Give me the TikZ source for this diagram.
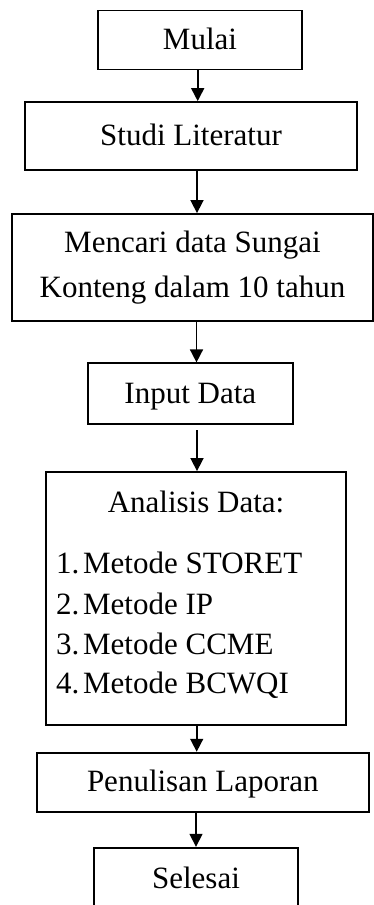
\documentclass[tikz,border=0pt]{standalone}
\usepackage{fontspec}
\setmainfont{Liberation Serif}
\usetikzlibrary{arrows.meta}
\begin{document}
\begin{tikzpicture}[x=1pt,y=-1pt,
  txt/.style={inner sep=0pt, font=\fontsize{31}{45}\selectfont},
  box/.style={txt, draw, line width=1.8pt, text height=21pt, text depth=2pt},
  flow/.style={line width=1.6pt, -{Triangle[length=13pt,width=13pt]}}]
\useasboundingbox (0,0) rectangle (374,905);
\clip (0,0) rectangle (374,905);

% process boxes
\node[box, minimum width=204pt, minimum height=59pt] (mulai) at (200,40) {Mulai};
\node[box, minimum width=332pt, minimum height=68pt] (studi) at (191,136) {Studi Literatur};
\node[box, minimum width=361pt, minimum height=107pt, align=center,
      text height={}, text depth={}] (data) at (192.5,267.5)
      {Mencari data Sungai\\Konteng dalam 10 tahun};
\node[box, minimum width=204.7pt, minimum height=61pt] (input) at (190.3,393.8) {Input Data};
\node[box, minimum width=300pt, minimum height=253pt] (analisis) at (196,598.5) {};
\node[box, minimum width=332.3pt, minimum height=59.3pt] (laporan) at (202.8,782.3) {Penulisan Laporan};
\node[box, minimum width=203.4pt, minimum height=62pt] (selesai) at (196,878.7) {Selesai};

% contents of the analysis box
\node[txt, anchor=base] (anltitle) at (196,512.7) {Analisis Data:};
\node[txt, anchor=base west] (m1) at (56,573) {\makebox[27pt][l]{1.}Metode STORET};
\node[txt, anchor=base west] (m2) at (56,614) {\makebox[27pt][l]{2.}Metode IP};
\node[txt, anchor=base west] (m3) at (56,654) {\makebox[27pt][l]{3.}Metode CCME};
\node[txt, anchor=base west] (m4) at (56,693) {\makebox[27pt][l]{4.}Metode BCWQI};

% arrow axes
\coordinate (ax1) at (197.7,0);
\coordinate (ax2) at (197,0);
\coordinate (ax3) at (196.5,0);
\coordinate (ax4) at (197,0);
\coordinate (ax5) at (196.7,0);
\coordinate (ax6) at (196,0);

% connectors
\draw[flow] (mulai.south -| ax1) -- (studi.north -| ax1);
\draw[flow] (studi.south -| ax2) -- (data.north -| ax2);
\draw[flow] (data.south -| ax3) -- (input.north -| ax3);
\draw[flow, shorten <=5pt] (input.south -| ax4) -- (analisis.north -| ax4);
\draw[flow] (analisis.south -| ax5) -- (laporan.north -| ax5);
\draw[flow] (laporan.south -| ax6) -- (selesai.north -| ax6);
\end{tikzpicture}
\end{document}
